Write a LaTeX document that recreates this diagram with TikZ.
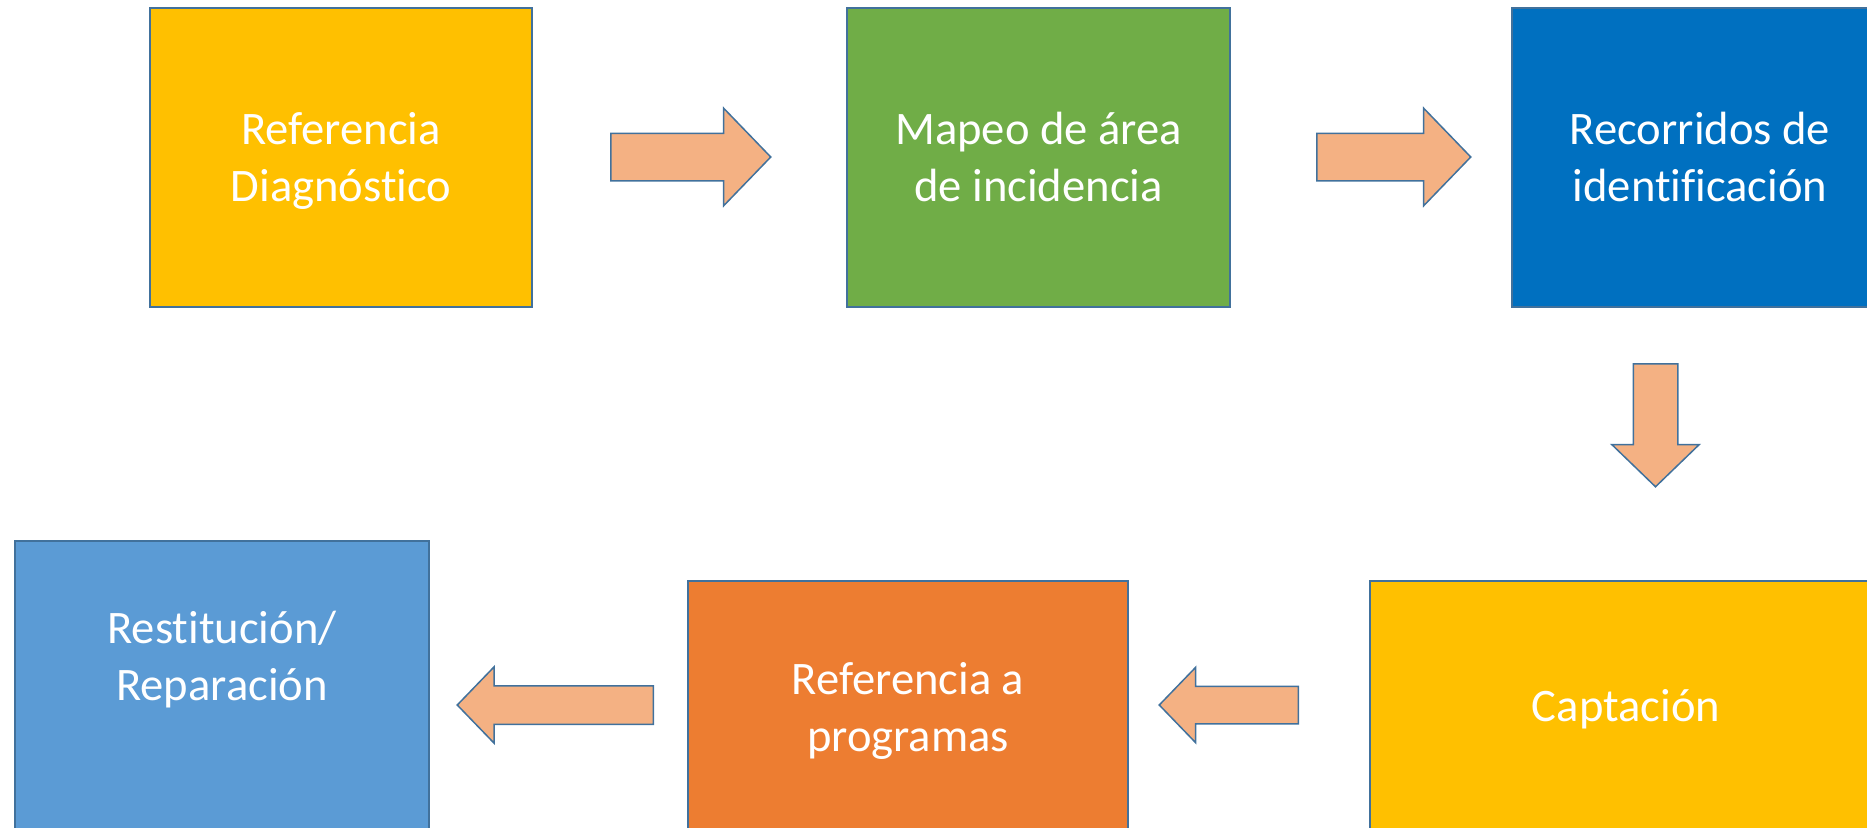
\documentclass[tikz,border=0pt]{standalone}
\usepackage{fontspec}
\setmainfont{Carlito}[Ligatures=NoCommon]
\usetikzlibrary{shapes.arrows}

\definecolor{edge}{HTML}{41719C}
\definecolor{amber}{HTML}{FFC000}
\definecolor{leaf}{HTML}{70AD47}
\definecolor{ocean}{HTML}{0070C0}
\definecolor{sky}{HTML}{5B9BD5}
\definecolor{tangerine}{HTML}{ED7D31}
\definecolor{peach}{HTML}{F4B183}

\tikzset{
  box/.style={draw=edge, line width=1.5pt, rectangle, inner sep=0pt,
    text=white, align=center, font=\fontsize{46.6}{57}\selectfont,
    text height=43.5pt, text depth=13.5pt},
  twoline/.style={text height=100.5pt},
  blockarrow/.style={single arrow, draw=edge, fill=peach, line width=1.5pt,
    single arrow tip angle=92, anchor=tail}
}

\begin{document}
\begin{tikzpicture}[x=1pt, y=-1pt]
  \useasboundingbox (0,0) rectangle (1867,827);
  \clip (0,0) rectangle (1867,827);

  % upper row
  \node[box, twoline, fill=amber, minimum width=382pt, minimum height=299pt] (diag) at (341,157.5)
    {Referencia\\Diagnóstico};
  \node[box, twoline, fill=leaf, minimum width=383pt, minimum height=299pt] (mapeo) at (1038.5,157.5)
    {Mapeo de área\\de incidencia};
  \node[box, twoline, fill=ocean, minimum width=376pt, minimum height=299pt] (recorr) at (1700,157.5)
    {Recorridos de\\identificación};

  % lower row
  \node[box, fill=amber, minimum width=512pt, minimum height=250pt] (capt) at (1626,706)
    {Captación};
  \node[box, twoline, fill=tangerine, minimum width=440pt, minimum height=253pt] (progr) at (908,707.5)
    {Referencia a\\programas};
  \node[box, fill=sky, minimum width=414pt, minimum height=320pt, anchor=north] (restit) at (222,540) {};
  \node[box, twoline, draw=none] (restit-txt) at (222,656.5) {Restitución/\\Reparación};

  % block arrows
  \node[blockarrow, inner sep=23pt, minimum height=160pt, single arrow head extend=25pt] (A1) at (610,157) {};
  \node[blockarrow, inner sep=23pt, minimum height=154pt, single arrow head extend=25pt] (A2) at (1316,157) {};
  \node[blockarrow, inner sep=21.5pt, minimum height=123pt, single arrow head extend=21.5pt,
    shape border rotate=270] (A3) at (1655.5,363) {};
  \node[blockarrow, inner sep=18pt, minimum height=139pt, single arrow head extend=19pt,
    shape border rotate=180] (A4) at (1299,705) {};
  \node[blockarrow, inner sep=18.5pt, minimum height=196pt, single arrow head extend=19pt,
    shape border rotate=180] (A5) at (654,705) {};
\end{tikzpicture}
\end{document}
